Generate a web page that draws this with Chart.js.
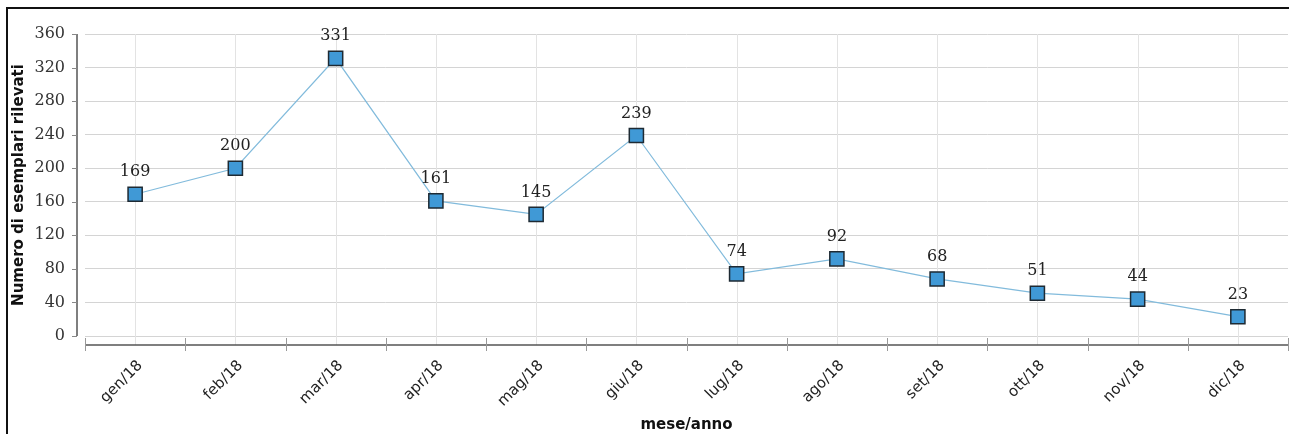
<!DOCTYPE html>
<html>
<head>
<meta charset="utf-8">
<script src="https://cdn.jsdelivr.net/npm/chart.js@4/dist/chart.umd.min.js"></script>
<style>
  html, body { margin: 0; padding: 0; background: #ffffff; }
  #wrap { position: relative; width: 1289px; height: 434px; }
  canvas { display: block; }
</style>
</head>
<body>
<div id="wrap"><canvas id="c" width="1289" height="434"></canvas></div>
<script>
// Mesi di rilevazione
const mesi = ['gen/18', 'feb/18', 'mar/18', 'apr/18', 'mag/18', 'giu/18',
              'lug/18', 'ago/18', 'set/18', 'ott/18', 'nov/18', 'dic/18'];
// Numero di esemplari rilevati per mese
const esemplari = [169, 200, 331, 161, 145, 239, 74, 92, 68, 51, 44, 23];
// Asse verticale
const yMin = 0;
const yMax = 360;
const yStep = 40;

const AXIS_GAP = 9; // distanza dell'asse x sotto lo zero

// Assi, tacche, griglia verticale ed etichette dei valori
const assiPlugin = {
  id: 'assi',
  beforeDatasetsDraw(chart) {
    const { ctx, chartArea, scales } = chart;
    const x = scales.x;
    const axisY = chartArea.bottom + AXIS_GAP;
    ctx.save();
    // griglia verticale in corrispondenza delle categorie
    ctx.strokeStyle = '#e3e3e3';
    ctx.lineWidth = 1;
    mesi.forEach((m, i) => {
      const px = Math.round(x.getPixelForValue(i)) + 0.5;
      ctx.beginPath();
      ctx.moveTo(px, chartArea.top);
      ctx.lineTo(px, axisY);
      ctx.stroke();
    });
    ctx.restore();
  },
  afterDraw(chart) {
    const { ctx, chartArea, scales } = chart;
    const x = scales.x, y = scales.y;
    const axisY = chartArea.bottom + AXIS_GAP;
    const axisX = chartArea.left - 8;
    ctx.save();
    // asse y
    ctx.strokeStyle = '#555555';
    ctx.lineWidth = 1.5;
    ctx.beginPath();
    ctx.moveTo(axisX, y.getPixelForValue(yMax));
    ctx.lineTo(axisX, y.getPixelForValue(yMin));
    ctx.stroke();
    // tacche asse y
    ctx.strokeStyle = '#888888';
    ctx.lineWidth = 1;
    for (let v = yMin; v <= yMax; v += yStep) {
      const py = Math.round(y.getPixelForValue(v)) + 0.5;
      ctx.beginPath();
      ctx.moveTo(axisX - 5, py);
      ctx.lineTo(axisX, py);
      ctx.stroke();
    }
    // asse x
    ctx.strokeStyle = '#555555';
    ctx.lineWidth = 1.5;
    ctx.beginPath();
    ctx.moveTo(chartArea.left, axisY);
    ctx.lineTo(chartArea.right, axisY);
    ctx.stroke();
    // tacche asse x ai confini delle categorie
    ctx.strokeStyle = '#999999';
    ctx.lineWidth = 1;
    const half = (x.getPixelForValue(1) - x.getPixelForValue(0)) / 2;
    for (let i = 0; i <= mesi.length; i++) {
      const px = Math.round(x.getPixelForValue(i) - half) + 0.5;
      ctx.beginPath();
      ctx.moveTo(px, axisY - 7);
      ctx.lineTo(px, axisY + 6);
      ctx.stroke();
    }
    // cornice superiore e sinistra
    ctx.strokeStyle = '#111111';
    ctx.lineWidth = 2;
    ctx.beginPath();
    ctx.moveTo(7, 434);
    ctx.lineTo(7, 8);
    ctx.lineTo(1289, 8);
    ctx.stroke();
    ctx.restore();
  },
  afterDatasetsDraw(chart) {
    const { ctx } = chart;
    const meta = chart.getDatasetMeta(0);
    ctx.save();
    ctx.font = '16px "DejaVu Serif"';
    ctx.fillStyle = '#222222';
    ctx.textAlign = 'center';
    ctx.textBaseline = 'middle';
    meta.data.forEach((pt, i) => {
      ctx.fillText(String(esemplari[i]), pt.x, pt.y - 22);
    });
    ctx.restore();
  }
};

new Chart(document.getElementById('c'), {
  type: 'line',
  data: {
    labels: mesi,
    datasets: [{
      data: esemplari,
      borderColor: '#82bbdc',
      borderWidth: 1.2,
      pointStyle: 'rect',
      pointRadius: 10,
      pointHoverRadius: 10,
      pointBackgroundColor: '#4099d6',
      pointBorderColor: '#1e2a33',
      pointBorderWidth: 1.5,
      tension: 0,
      clip: false
    }]
  },
  options: {
    responsive: false,
    animation: false,
    devicePixelRatio: 1,
    layout: { autoPadding: false, padding: { top: 34, right: 1, left: 0, bottom: 0 } },
    plugins: { legend: { display: false }, tooltip: { enabled: false } },
    scales: {
      x: {
        type: 'category',
        offset: true,
        afterFit(scale) {
          scale.height = 98;
          scale.paddingLeft = 0;
          scale.paddingRight = 0;
        },
        grid: { display: false, drawTicks: false },
        border: { display: false },
        ticks: {
          minRotation: 45,
          maxRotation: 45,
          padding: 21,
          labelOffset: 5,
          color: '#222222',
          font: { family: '"DejaVu Sans"', size: 15 }
        },
        title: {
          display: true,
          text: 'mese/anno',
          color: '#111111',
          font: { family: '"DejaVu Sans"', size: 15, weight: 'bold' },
          padding: { top: -2, bottom: 0 }
        }
      },
      y: {
        min: yMin,
        max: yMax,
        afterFit(scale) {
          scale.width = 85;
          scale.paddingTop = 0;
          scale.paddingBottom = 0;
        },
        grid: { color: '#d4d4d4', lineWidth: 1, drawTicks: false },
        border: { display: false },
        ticks: {
          stepSize: yStep,
          padding: 20,
          color: '#333333',
          font: { family: '"DejaVu Serif"', size: 16 }
        },
        title: {
          display: true,
          text: 'Numero di esemplari rilevati',
          color: '#111111',
          font: { family: '"DejaVu Sans"', size: 15, weight: 'bold' },
          padding: { top: 10, bottom: 0 }
        }
      }
    }
  },
  plugins: [assiPlugin]
});
</script>
</body>
</html>
